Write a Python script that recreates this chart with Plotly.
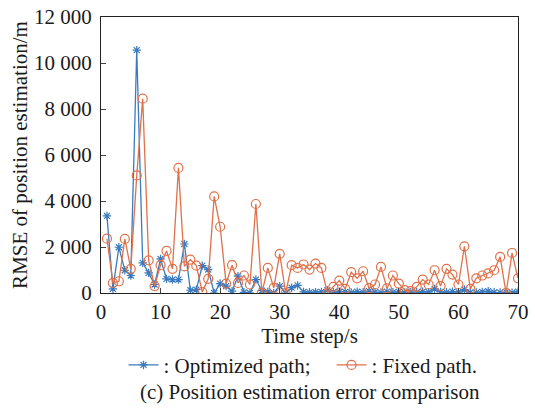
import plotly.graph_objects as go

time_steps = list(range(1, 71))

optimized_path = [
    3350, 180, 1990, 990, 760, 10560, 1310, 875, 370, 1480,
    615, 585, 585, 2130, 120, 150, 1190, 1020, 0, 410,
    300, 80, 730, 30, 0, 585, 100, 50, 0, 300,
    0, 230, 330, 50, 30, 40, 50, 120, 40, 60,
    50, 20, 60, 30, 80, 40, 20, 60, 30, 50,
    20, 40, 30, 60, 40, 180, 50, 30, 60, 40,
    150, 30, 20, 50, 80, 30, 20, 40, 10, 60,
]

fixed_path = [
    2360, 440, 510, 2350, 1050, 5110, 8450, 1420, 300, 1210,
    1830, 1050, 5440, 1160, 1450, 1190, 40, 615, 4200, 2880,
    410, 1210, 440, 760, 370, 3870, 0, 1090, 225, 1700,
    0, 1210, 1090, 1240, 1020, 1280, 1090, 0, 270, 540,
    180, 905, 640, 945, 210, 370, 1135, 200, 760, 410,
    125, 80, 270, 585, 370, 990, 300, 1050, 800, 370,
    2030, 180, 640, 760, 850, 990, 1570, 0, 1740, 640,
]

x_ticks = [0, 10, 20, 30, 40, 50, 60, 70]
y_ticks = [0, 2000, 4000, 6000, 8000, 10000, 12000]
y_tick_labels = ["0", "2 000", "4 000", "6 000", "8 000", "10 000", "12 000"]

BLUE = "#3a7bbf"
ORANGE = "#e0714a"
FONT = "Liberation Serif"
FS = 21

fig = go.Figure()
fig.add_trace(go.Scatter(
    x=time_steps, y=optimized_path, mode="lines+markers",
    name=": Optimized path;",
    line=dict(color=BLUE, width=1.3),
    marker=dict(symbol="asterisk-open", size=7, color=BLUE, line=dict(color=BLUE, width=1.2)),
))
fig.add_trace(go.Scatter(
    x=time_steps, y=fixed_path, mode="lines+markers",
    name=": Fixed path.",
    line=dict(color=ORANGE, width=1.3),
    marker=dict(symbol="circle-open", size=9, color=ORANGE, line=dict(color=ORANGE, width=1.2)),
))

fig.update_layout(
    width=535, height=409,
    margin=dict(l=101, r=17, t=17, b=116, autoexpand=False),
    paper_bgcolor="white", plot_bgcolor="white",
    font=dict(family=FONT, size=FS, color="#1a1a1a"),
    showlegend=True,
    legend=dict(
        orientation="h", x=0.054, y=-0.262, xanchor="left", yanchor="middle",
        font=dict(family=FONT, size=FS), bgcolor="rgba(0,0,0,0)",
        itemsizing="trace", tracegroupgap=0,
        entrywidth=163, entrywidthmode="pixels",
    ),
    annotations=[dict(
        text="(c) Position estimation error comparison",
        xref="paper", yref="paper", x=0.5, y=-0.36,
        xanchor="center", yanchor="middle", showarrow=False,
        font=dict(family=FONT, size=FS),
    )],
)

fig.update_xaxes(
    range=[0, 70], tickvals=x_ticks, ticks="inside", ticklen=5,
    showline=True, mirror=True, linecolor="#222", linewidth=1.3,
    showgrid=False, zeroline=False, automargin=False,
    tickfont=dict(family=FONT, size=FS),
    title=dict(text="Time step/s", standoff=3, font=dict(family=FONT, size=FS)),
)
fig.update_yaxes(
    range=[0, 12000], tickvals=y_ticks, ticktext=y_tick_labels,
    ticks="inside", ticklen=5, ticklabelstandoff=4,
    showline=True, mirror=True, linecolor="#222", linewidth=1.3,
    showgrid=False, zeroline=False, automargin=False,
    tickfont=dict(family=FONT, size=FS),
    title=dict(text="RMSE of position estimation/m", standoff=0, font=dict(family=FONT, size=FS)),
)

fig.write_html(
    "out.html",
    config={"displayModeBar": False},
    post_script="document.body.style.margin='0';document.body.style.padding='0';",
)
